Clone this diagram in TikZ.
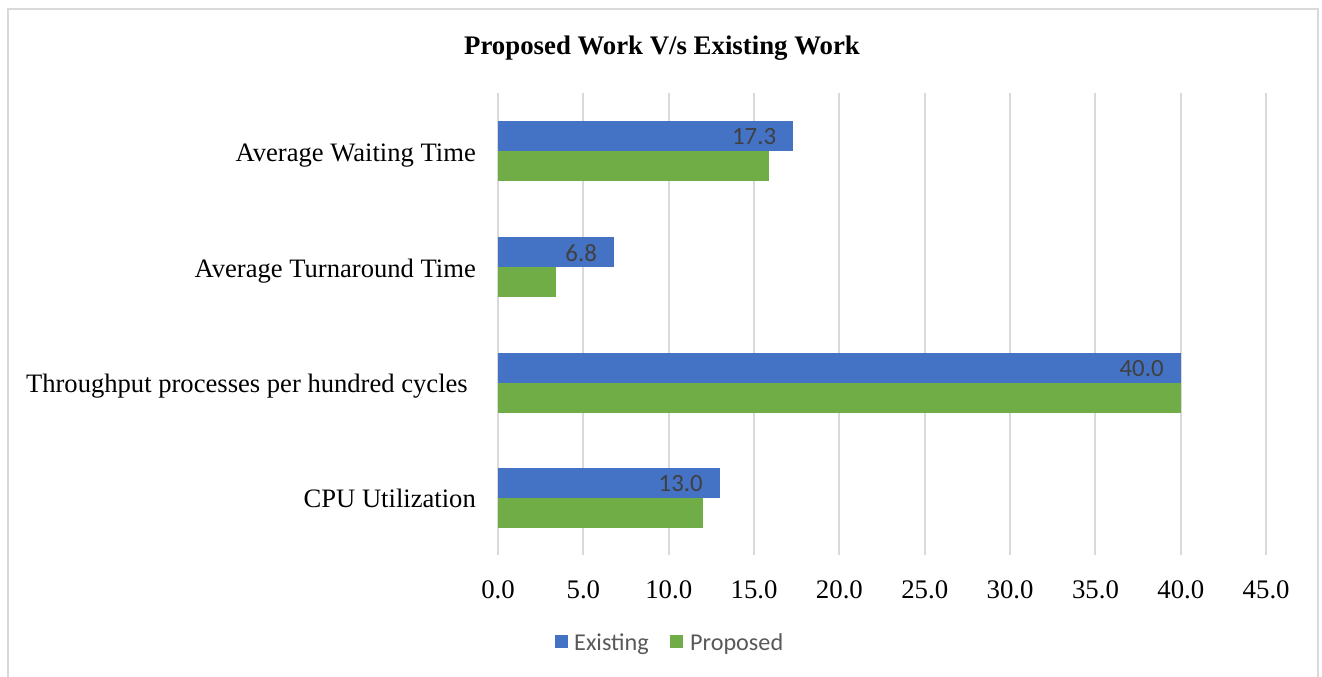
\documentclass[tikz,border=0pt]{standalone}
\usepackage{fontspec}
\setmainfont{Liberation Serif}
\newfontfamily\calibri{Carlito}
\usepackage{xcolor}
\definecolor{existing}{HTML}{4472C4}
\definecolor{proposed}{HTML}{70AD47}
\definecolor{gridgray}{HTML}{D9D9D9}
\definecolor{valgray}{HTML}{404040}
\definecolor{keygray}{HTML}{595959}
\usetikzlibrary{positioning}

\begin{document}
\begin{tikzpicture}[x=1pt,y=-1pt,
  cat/.style={anchor=base east,inner sep=0pt,font=\fontsize{26.6}{30}\selectfont},
  tick/.style={anchor=base,inner sep=0pt,font=\fontsize{26.8}{30}\selectfont},
  val/.style={anchor=east,inner sep=0pt,text=valgray,font=\calibri\fontsize{24.8}{28}\selectfont},
  key/.style={anchor=base west,inner sep=0pt,text=keygray,font=\calibri\fontsize{24.2}{28}\selectfont},
  gridline/.style={gridgray,line width=2pt}]
  \useasboundingbox (0,0) rectangle (1322,677);
  \fill[white] (0,0) rectangle (1322,677);
  \draw[gridline] (8,690) -- (8,9) -- (1318,9) -- (1318,690);

  \node[anchor=base,inner sep=0pt,font=\bfseries\fontsize{26.8}{30}\selectfont] (title) at (662,55) {Proposed Work V/s Existing Work};

  \foreach \v in {0,5,...,45} {
    \draw[gridline] (498+17.07*\v,93) -- (498+17.07*\v,555);
    \node[tick] (tick\v) at (498+17.07*\v,598) {\v.0};
  }

  \fill[existing] (498,121) rectangle (498+17.07*17.3,151);
  \fill[proposed] (498,151) rectangle (498+17.07*15.9,181);
  \node[val] (valwait) at (498+17.07*17.3-17,137) {17.3};
  \node[cat] (lblwait) at (476,161) {Average Waiting Time};

  \fill[existing] (498,237) rectangle (498+17.07*6.8,267);
  \fill[proposed] (498,267) rectangle (498+17.07*3.4,297);
  \node[val] (valturn) at (498+17.07*6.8-17,253) {6.8};
  \node[cat] (lblturn) at (476,277) {Average Turnaround Time};

  \fill[existing] (498,353) rectangle (498+17.07*40,383);
  \fill[proposed] (498,383) rectangle (498+17.07*40,413);
  \node[val] (valthru) at (498+17.07*40-17,369) {40.0};
  \node[cat] (lblthru) at (468,392) {Throughput processes per hundred cycles};

  \fill[existing] (498,468) rectangle (498+17.07*13,498);
  \fill[proposed] (498,498) rectangle (498+17.07*12,528);
  \node[val] (valcpu) at (498+17.07*13-17,484) {13.0};
  \node[cat] (lblcpu) at (476,507) {CPU Utilization};

  \fill[existing] (555,635) rectangle (568,648);
  \node[key] (keyexist) at (574,650) {Existing};
  \fill[proposed] (670,635) rectangle (683,648);
  \node[key] (keyprop) at (690,650) {Proposed};
\end{tikzpicture}
\end{document}
